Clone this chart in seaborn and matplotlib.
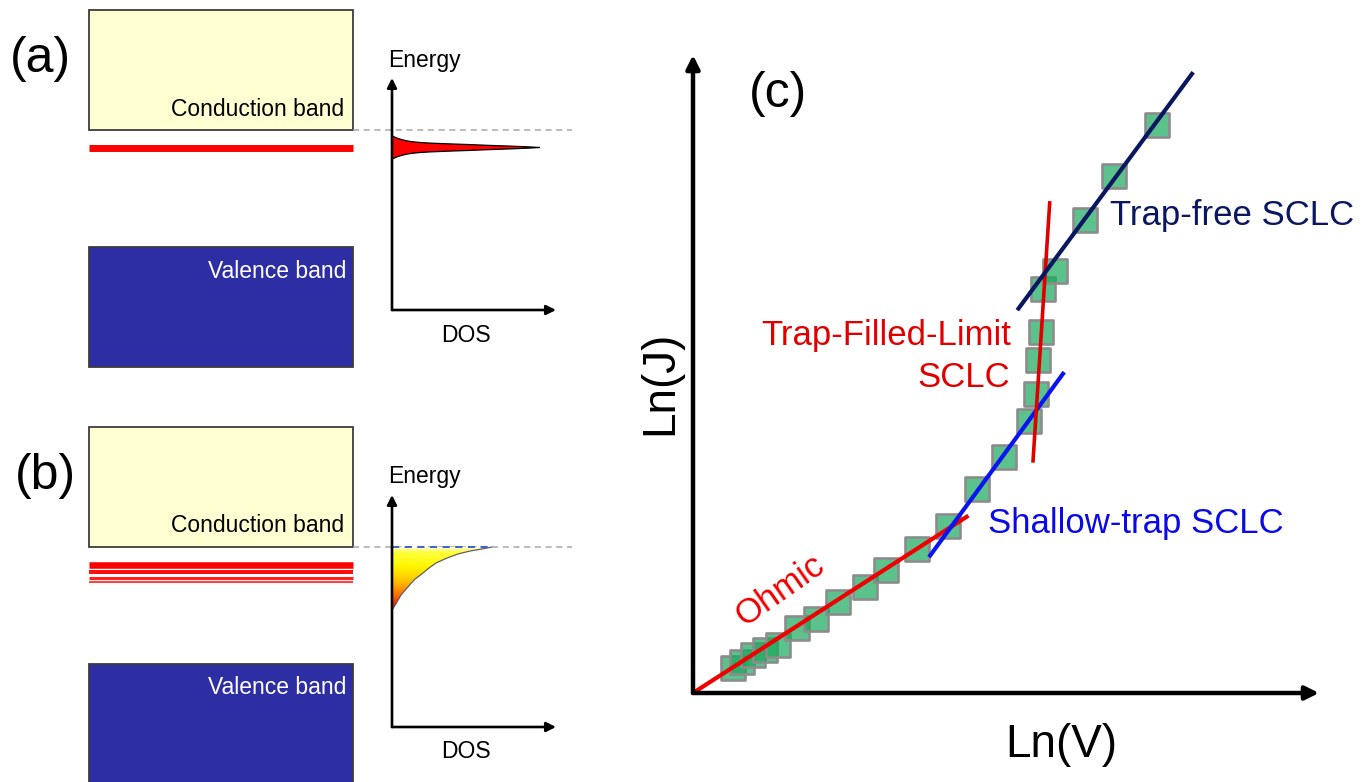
import numpy as np
import pandas as pd
import matplotlib
matplotlib.use("Agg")
import matplotlib.pyplot as plt
import seaborn as sns
from matplotlib.patches import Rectangle, Polygon
from matplotlib.colors import LinearSegmentedColormap

# ---------------- data ----------------
# panel (c): log J - log V points (arbitrary units)
ln_v = [0.64, 0.78, 0.96, 1.15, 1.36, 1.66, 1.96, 2.32, 2.75, 3.08, 3.58, 4.07,
        4.54, 4.97, 5.37, 5.48, 5.51, 5.56, 5.59, 5.78, 6.26, 6.73, 7.41]
ln_j = [0.39, 0.49, 0.60, 0.67, 0.75, 1.02, 1.16, 1.43, 1.66, 1.93, 2.26, 2.62,
        3.20, 3.70, 4.26, 4.69, 5.22, 5.66, 6.33, 6.61, 7.41, 8.10, 8.90]
ohmic_x, ohmic_y = [0.0, 4.40], [0.0, 2.78]
shallow_x, shallow_y = [3.77, 5.93], [2.13, 5.03]
tfl_x, tfl_y = [5.43, 5.70], [3.61, 7.71]
trapfree_x, trapfree_y = [5.18, 7.99], [6.00, 9.73]

# panels (a),(b): energies (arbitrary units, conduction band edge = 0)
cb_edge, cb_top = 0.0, 1.20
vb_edge, vb_bottom = -1.17, -2.37
band_x = [0.89, 3.53]
trap_level_a = -0.175
trap_levels_b = [-0.180, -0.250, -0.305, -0.350]
dos_x0 = 3.92
dos_axis_e = [-1.80, 0.52]
dos_axis_xend = 5.56
# discrete trap DOS peak (a)
peak_dos = [0.0, 0.01, 0.03, 0.06, 0.10, 0.15, 0.20, 0.28, 0.38, 0.55, 0.78, 0.95, 1.18, 1.35, 1.48]
peak_halfwidth = [0.118, 0.112, 0.102, 0.090, 0.078, 0.066, 0.058, 0.050, 0.044, 0.037, 0.029,
                  0.022, 0.014, 0.007, 0.0]
# exponential tail DOS (b)
tail_e = [0.0, -0.02, -0.04, -0.07, -0.11, -0.16, -0.21, -0.26, -0.33, -0.41, -0.48, -0.55, -0.60, -0.63]
tail_dos = [1.00, 0.90, 0.78, 0.66, 0.55, 0.44, 0.37, 0.31, 0.22, 0.15, 0.09, 0.05, 0.02, 0.0]

# ---------------- style ----------------
sns.set_theme(style="white")
plt.rcParams["font.family"] = ["Liberation Sans", "DejaVu Sans"]
plt.rcParams["text.color"] = "black"

W, H = 1368, 782
fig = plt.figure(figsize=(W / 100, H / 100), dpi=100)
fig.patch.set_facecolor("white")

CB_FILL = "#FFFFD2"
VB_FILL = "#2E2EA4"
EDGE = "#3C3C3C"


def band_panel(ax, label, label_x, e_top, traps, trap_widths, trap_colors):
    ax.axis("off")
    w = band_x[1] - band_x[0]
    ax.add_patch(Rectangle((band_x[0], cb_edge), w, cb_top - cb_edge,
                           fc=CB_FILL, ec=EDGE, lw=1.3, zorder=1))
    ax.add_patch(Rectangle((band_x[0], vb_bottom), w, vb_edge - vb_bottom,
                           fc=VB_FILL, ec=EDGE, lw=1.3, zorder=1))
    for e, lw, c in zip(traps, trap_widths, trap_colors):
        ax.plot(band_x, [e, e], color=c, lw=lw, solid_capstyle="butt", zorder=2)
    ax.text(3.44, cb_edge + 0.21, "Conduction band", fontsize=16.5, ha="right", va="center")
    ax.text(3.46, vb_edge - 0.24, "Valence band", fontsize=16.5, ha="right", va="center",
            color="white")
    ax.text(label_x, 0.71, label, fontsize=36, ha="center", va="center")
    # dashed CB edge
    ax.plot([band_x[1], 5.72], [cb_edge, cb_edge], color="#A8A8A8", lw=1.1,
            dashes=(4, 3), zorder=1)
    # DOS axes
    ap = dict(arrowstyle="-|>", color="black", lw=1.9, mutation_scale=14,
              shrinkA=0, shrinkB=0)
    ax.annotate("", xy=(dos_x0, dos_axis_e[1]), xytext=(dos_x0, dos_axis_e[0]),
                arrowprops=ap, zorder=5)
    ax.annotate("", xy=(dos_axis_xend, dos_axis_e[0]), xytext=(dos_x0, dos_axis_e[0]),
                arrowprops=ap, zorder=5)
    ax.text(4.24, 0.70, "Energy", fontsize=16.5, ha="center", va="center")
    ax.text(4.66, -2.05, "DOS", fontsize=16.5, ha="center", va="center")
    ax.set_xlim(0, 5.80)
    ax.set_ylim(e_top - 3.91, e_top)


# ---- panel (a)
ax_a = fig.add_axes([0, 0.5, 580 / W, 0.5])
band_panel(ax_a, "(a)", 0.40, 1.30, [trap_level_a], [5.0], ["#FF0000"])
upper = [(dos_x0 + d, trap_level_a + h) for d, h in zip(peak_dos, peak_halfwidth)]
lower = [(dos_x0 + d, trap_level_a - h) for d, h in zip(peak_dos, peak_halfwidth)][::-1]
ax_a.add_patch(Polygon(upper + lower, closed=True, fc="#FF0000", ec="black", lw=0.9, zorder=3))

# ---- panel (b)
ax_b = fig.add_axes([0, 0.0, 580 / W, 0.5])
band_panel(ax_b, "(b)", 0.45, 1.56, trap_levels_b, [4.7, 2.9, 2.2, 1.5],
           ["#FF0000", "#FF1010", "#FF2020", "#FF4040"])
poly_pts = [(dos_x0 + d, e) for d, e in zip(tail_dos, tail_e)] + [(dos_x0, tail_e[0])]
tail_patch = Polygon(poly_pts, closed=True, fc="none", ec="none", zorder=2)
ax_b.add_patch(tail_patch)
cmap = LinearSegmentedColormap.from_list(
    "tail", [(0.0, (1, 1, 0.88)), (0.08, (1, 1, 0.25)), (0.3, (1, 0.97, 0.0)),
             (0.55, (1, 0.75, 0.0)), (0.78, (1, 0.4, 0.0)), (1.0, (0.9, 0.0, 0.0))])
grad = np.linspace(0, 1, 256).reshape(-1, 1)
im = ax_b.imshow(grad, cmap=cmap, extent=[dos_x0, dos_x0 + max(tail_dos), min(tail_e), max(tail_e)],
                 origin="upper", aspect="auto", zorder=2)
im.set_clip_path(tail_patch)
ax_b.plot([dos_x0 + d for d in tail_dos], tail_e, color="#606060", lw=0.9, zorder=3)
ax_b.plot([dos_x0, dos_x0 + tail_dos[0]], [cb_edge, cb_edge], color="#3355CC", lw=1.3,
          dashes=(4, 3), zorder=4)
ax_b.set_xlim(0, 5.80)
ax_b.set_ylim(1.56 - 3.91, 1.56)

# ---- panel (c)
ax_c = fig.add_axes([693 / W, 89 / H, 626 / W, 638 / H])
ax_c.axis("off")
df = pd.DataFrame({"lnV": ln_v, "lnJ": ln_j})
sns.scatterplot(data=df, x="lnV", y="lnJ", marker="s", s=320, color="#16A95B",
                edgecolor="#8C8C8C", linewidth=1.9, ax=ax_c, zorder=2, legend=False)
coll = ax_c.collections[-1]
coll.set_alpha(None)
coll.set_facecolor((0.086, 0.663, 0.357, 0.70))
coll.set_edgecolor("#8C8C8C")
coll.set_clip_on(False)

ax_c.plot(ohmic_x, ohmic_y, color="#F00000", lw=3.0, solid_capstyle="butt", zorder=3, clip_on=False)
ax_c.plot(shallow_x, shallow_y, color="#0A14F0", lw=3.0, solid_capstyle="butt", zorder=3)
ax_c.plot(tfl_x, tfl_y, color="#E00000", lw=2.6, solid_capstyle="butt", zorder=3)
ax_c.plot(trapfree_x, trapfree_y, color="#0A1660", lw=3.0, solid_capstyle="butt", zorder=3)

apc = dict(arrowstyle="-|>", color="black", lw=3.2, mutation_scale=20, shrinkA=0, shrinkB=0)
ax_c.annotate("", xy=(1.0, 0.0), xytext=(0.0, 0.0), xycoords="axes fraction",
              textcoords="axes fraction", arrowprops=apc, annotation_clip=False)
ax_c.annotate("", xy=(0.0, 1.0), xytext=(0.0, 0.0), xycoords="axes fraction",
              textcoords="axes fraction", arrowprops=apc, annotation_clip=False)

ax_c.text(1.36, 9.39, "(c)", fontsize=36, ha="center", va="center")
ax_c.text(-0.53, 4.86, "Ln(J)", fontsize=33, ha="center", va="center", rotation=90)
ax_c.text(5.88, -0.82, "Ln(V)", fontsize=33, ha="center", va="center")
ax_c.text(1.39, 1.60, "Ohmic", fontsize=25, color="#F00000", ha="center", va="center",
          rotation=35, rotation_mode="anchor")
ax_c.text(4.71, 2.65, "Shallow-trap SCLC", fontsize=25, color="#0A0AE6", ha="left", va="center")
ax_c.text(6.66, 7.49, "Trap-free SCLC", fontsize=25, color="#0A1660", ha="left", va="center")
ax_c.text(5.08, 5.60, "Trap-Filled-Limit", fontsize=25, color="#E00000", ha="right", va="center")
ax_c.text(5.06, 4.94, "SCLC", fontsize=25, color="#E00000", ha="right", va="center")
ax_c.set_xlim(0, 10)
ax_c.set_ylim(0, 10)

fig.savefig("out.png", dpi=100, facecolor="white")
